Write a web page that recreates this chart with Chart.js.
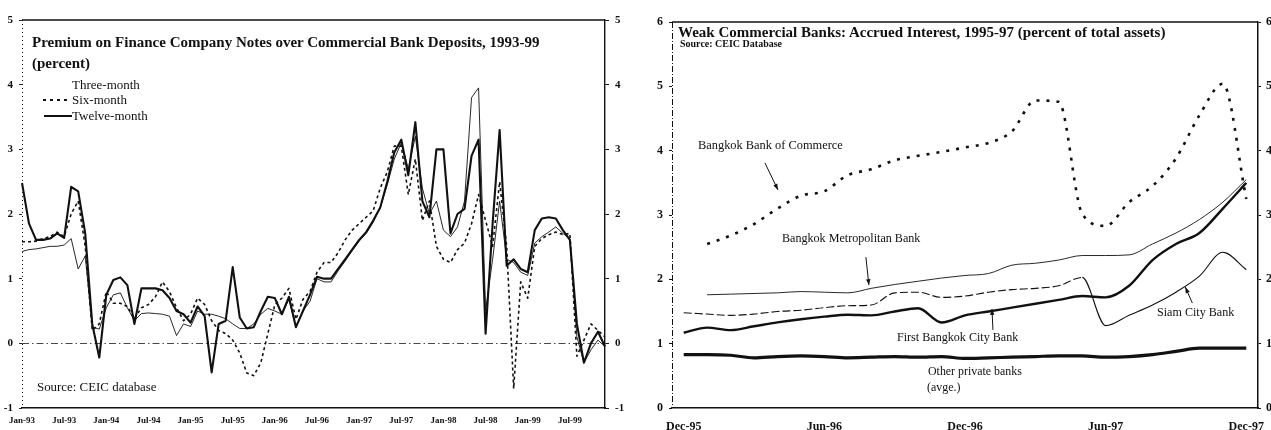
<!DOCTYPE html>
<html>
<head>
<meta charset="utf-8">
<script src="https://cdn.jsdelivr.net/npm/chart.js@4.4.1/dist/chart.umd.min.js"></script>
<style>
  html, body { margin: 0; padding: 0; background: #fff; }
  body { width: 1271px; height: 430px; position: relative; overflow: hidden;
         font-family: "Liberation Serif", "Times New Roman", serif; color: #111; }
  .painel { position: absolute; top: 0; }
  #painelPremio { left: 0; }
  #painelBancos { left: 635px; }
  canvas { display: block; }
  .txt { position: absolute; white-space: nowrap; line-height: 1; }
  .titulo { font-weight: bold; }
  .amostra-seis { position: absolute; height: 2px;
    background: repeating-linear-gradient(90deg, #111 0 3px, transparent 3px 7px); }
  .amostra-doze { position: absolute; height: 2px; background: #111; }
</style>
</head>
<body>
<div class="painel" id="painelPremio"><canvas id="chartPremio" width="640" height="430"></canvas></div>
<div class="painel" id="painelBancos"><canvas id="chartBancos" width="636" height="430"></canvas></div>

<!-- textos do grafico da esquerda -->
<div class="txt titulo" style="left:32px; top:35px; font-size:15px;">Premium on Finance Company Notes over Commercial Bank Deposits, 1993-99</div>
<div class="txt titulo" style="left:32px; top:56px; font-size:15px;">(percent)</div>
<div class="txt" style="left:72px; top:78px; font-size:13px;">Three-month</div>
<div class="amostra-seis" style="left:43px; top:99px; width:28px;"></div>
<div class="txt" style="left:72px; top:93px; font-size:13px;">Six-month</div>
<div class="amostra-doze" style="left:44px; top:115px; width:28px;"></div>
<div class="txt" style="left:72px; top:109px; font-size:13px;">Twelve-month</div>
<div class="txt" style="left:37px; top:381px; font-size:12.9px;">Source: CEIC database</div>

<!-- textos do grafico da direita -->
<div class="txt titulo" style="left:678px; top:25px; font-size:15px;">Weak Commercial Banks: Accrued Interest, 1995-97 (percent of total assets)</div>
<div class="txt titulo" style="left:680px; top:39px; font-size:10px;">Source: CEIC Database</div>
<div class="txt" style="left:698px; top:139px; font-size:12.4px;">Bangkok Bank of Commerce</div>
<div class="txt" style="left:782px; top:232px; font-size:12.1px;">Bangkok Metropolitan Bank</div>
<div class="txt" style="left:897px; top:331px; font-size:12.1px;">First Bangkok City Bank</div>
<div class="txt" style="left:1157px; top:306px; font-size:12.1px;">Siam City Bank</div>
<div class="txt" style="left:928px; top:366px; font-size:11.9px;">Other private banks</div>
<div class="txt" style="left:927px; top:382px; font-size:11.9px;">(avge.)</div>

<script>
// Grafico 1: premio das notas das financeiras sobre depositos bancarios (mensal, Jan-93 a Dez-99)
const MESES = ['Jan','Feb','Mar','Apr','May','Jun','Jul','Aug','Sep','Oct','Nov','Dec'];
const anosPremio = ['93','94','95','96','97','98','99'];
const mesesPremio = [];
anosPremio.forEach(a => MESES.forEach(m => mesesPremio.push(m + '-' + a)));

const premioTres = [
  1.42, 1.45, 1.46, 1.48, 1.5, 1.5, 1.52, 1.62, 1.15, 1.35, 0.25, 0.22,
  0.55, 0.75, 0.78, 0.55, 0.35, 0.46, 0.47, 0.46, 0.45, 0.42, 0.12, 0.3,
  0.26, 0.5, 0.45, 0.45, 0.42, 0.38, 0.3, 0.23, 0.23, 0.3, 0.45, 0.54,
  0.5, 0.45, 0.68, 0.25, 0.5, 0.65, 1.0, 0.95, 0.95, 1.12, 1.27, 1.43,
  1.58, 1.7, 1.87, 2.1, 2.45, 2.85, 3.1, 2.7, 3.2, 2.4, 2.0, 2.2,
  1.75, 1.65, 1.8, 2.2, 3.8, 3.95, 0.5, 1.3, 2.2, 1.3, 1.25, 1.1,
  1.05, 1.55, 1.65, 1.72, 1.8, 1.7, 1.62, 0.1, -0.3, -0.1, 0.05, -0.05
];
const premioSeis = [
  1.57, 1.57, 1.58, 1.62, 1.65, 1.72, 1.65, 2.0, 2.2, 1.5, 0.2, 0.3,
  0.8, 0.62, 0.62, 0.57, 0.38, 0.55, 0.6, 0.72, 0.95, 0.8, 0.55, 0.35,
  0.45, 0.7, 0.6, 0.35, 0.2, 0.15, 0.05, -0.15, -0.46, -0.5, -0.3, 0.15,
  0.6, 0.7, 0.85, 0.37, 0.68, 0.8, 1.1, 1.25, 1.25, 1.4, 1.6, 1.75,
  1.85, 1.95, 2.05, 2.4, 2.65, 3.05, 3.05, 2.3, 2.85, 1.9, 2.2, 1.5,
  1.3, 1.25, 1.45, 1.55, 1.85, 2.3, 1.9, 1.5, 2.5, 1.5, -0.7, 0.95,
  0.7, 1.5, 1.62, 1.68, 1.72, 1.68, 1.7, -0.2, 0.05, 0.3, 0.2, 0.1
];
const premioDoze = [
  2.48, 1.85, 1.6, 1.6, 1.62, 1.7, 1.63, 2.42, 2.35, 1.7, 0.3, -0.22,
  0.75, 0.98, 1.02, 0.9, 0.3, 0.85, 0.85, 0.85, 0.82, 0.7, 0.5, 0.45,
  0.32, 0.57, 0.42, -0.45, 0.3, 0.35, 1.18, 0.4, 0.23, 0.25, 0.5, 0.72,
  0.7, 0.45, 0.72, 0.25, 0.5, 0.75, 1.03, 1.0, 1.0, 1.15, 1.3, 1.45,
  1.6, 1.72, 1.9, 2.1, 2.5, 2.95, 3.15, 2.6, 3.42, 2.2, 1.95, 3.0,
  3.0, 1.7, 2.0, 2.08, 2.9, 3.15, 0.15, 1.85, 3.3, 1.2, 1.3, 1.15,
  1.1, 1.75, 1.93, 1.95, 1.93, 1.75, 1.6, 0.3, -0.3, 0.0, 0.18, -0.05
];

// Grafico 2: juros vencidos dos bancos fracos (% do ativo), Dez-95 a Dez-97
const mesesBancos = ['Dec-95'];
['96', '97'].forEach(a => MESES.forEach(m => mesesBancos.push(m + '-' + a)));

const bancoComercio = [null, 2.55, 2.68, 2.86, 3.1, 3.3, 3.37, 3.62, 3.71, 3.85, 3.92, 3.98, 4.05,
  4.12, 4.3, 4.78, 4.76, 3.02, 2.83, 3.2, 3.45, 3.88, 4.55, 5.04, 3.25];
const bancoMetropolitano = [null, 1.76, 1.77, 1.78, 1.79, 1.81, 1.8, 1.79, 1.86, 1.92, 1.97, 2.02, 2.06,
  2.09, 2.22, 2.25, 2.3, 2.37, 2.37, 2.38, 2.55, 2.72, 2.93, 3.2, 3.55];
const bancoFirstCity = [1.17, 1.25, 1.21, 1.27, 1.33, 1.38, 1.42, 1.45, 1.44, 1.5, 1.55, 1.33, 1.44,
  1.5, 1.56, 1.62, 1.68, 1.74, 1.72, 1.9, 2.3, 2.55, 2.72, 3.1, 3.5];
const bancoSiam = [1.48, 1.46, 1.44, 1.46, 1.5, 1.52, 1.56, 1.59, 1.6, 1.79, 1.8, 1.72, 1.74,
  1.8, 1.84, 1.86, 1.9, 2.03, 1.28, 1.44, 1.6, 1.8, 2.05, 2.42, 2.15];
const bancosOutros = [0.83, 0.83, 0.82, 0.78, 0.8, 0.81, 0.8, 0.78, 0.79, 0.8, 0.79, 0.8, 0.77,
  0.78, 0.79, 0.8, 0.81, 0.81, 0.79, 0.8, 0.83, 0.88, 0.93, 0.93, 0.93];

// Setas das etiquetas: ponta em coordenadas dos dados, cauda em pixels relativos
const setasBancos = [
  { mes: 4.02, valor: 3.39, dx: -13, dy: -27 },
  { mes: 7.9,  valor: 1.91, dx: -3,  dy: -28 },
  { mes: 13.15, valor: 1.54, dx: 1,  dy: 21 },
  { mes: 21.4, valor: 1.88, dx: 7,   dy: 16 }
];

const SERIF = '"Liberation Serif", "Times New Roman", serif';
const PRETO = '#111';

// moldura: linha de cima continua, eixo da esquerda tracejado
const moldura = {
  id: 'moldura',
  beforeDatasetsDraw(chart, args, opts) {
    const { ctx, chartArea: a } = chart;
    ctx.save();
    ctx.strokeStyle = PRETO;
    ctx.lineWidth = opts.larguraTopo;
    ctx.beginPath(); ctx.moveTo(a.left, a.top); ctx.lineTo(a.right, a.top); ctx.stroke();
    ctx.lineWidth = 1;
    ctx.setLineDash(opts.tracoEsquerda);
    ctx.beginPath(); ctx.moveTo(a.left + 0.5, a.top); ctx.lineTo(a.left + 0.5, a.bottom); ctx.stroke();
    ctx.restore();
  }
};

const setas = {
  id: 'setas',
  afterDatasetsDraw(chart, args, opts) {
    if (!opts.itens) return;
    const { ctx, scales: { x, y } } = chart;
    ctx.save();
    ctx.strokeStyle = PRETO; ctx.fillStyle = PRETO; ctx.lineWidth = 1;
    opts.itens.forEach(s => {
      const tx = x.getPixelForValue(s.mes), ty = y.getPixelForValue(s.valor);
      const fx = tx + s.dx, fy = ty + s.dy;
      ctx.beginPath(); ctx.moveTo(fx, fy); ctx.lineTo(tx, ty); ctx.stroke();
      const ang = Math.atan2(ty - fy, tx - fx);
      ctx.beginPath();
      ctx.moveTo(tx, ty);
      ctx.lineTo(tx - 6 * Math.cos(ang) + 2.2 * Math.sin(ang), ty - 6 * Math.sin(ang) - 2.2 * Math.cos(ang));
      ctx.lineTo(tx - 6 * Math.cos(ang) - 2.2 * Math.sin(ang), ty - 6 * Math.sin(ang) + 2.2 * Math.cos(ang));
      ctx.closePath(); ctx.fill();
    });
    ctx.restore();
  }
};

Chart.defaults.font.family = SERIF;
Chart.defaults.color = PRETO;

const fonteEixo = (tam) => ({ family: SERIF, size: tam, weight: 'bold' });

// ---- grafico da esquerda
new Chart(document.getElementById('chartPremio'), {
  type: 'line',
  data: {
    labels: mesesPremio,
    datasets: [
      { label: 'Three-month', data: premioTres, borderColor: PRETO, borderWidth: 0.9 },
      { label: 'Six-month', data: premioSeis, borderColor: PRETO, borderWidth: 1.6, borderDash: [3, 3] },
      { label: 'Twelve-month', data: premioDoze, borderColor: PRETO, borderWidth: 2.1 }
    ]
  },
  options: {
    responsive: false,
    animation: false,
    layout: { padding: { top: 20 } },
    elements: { point: { radius: 0 }, line: { tension: 0, borderJoinStyle: 'round' } },
    plugins: {
      legend: { display: false }, tooltip: { enabled: false },
      moldura: { larguraTopo: 1.3, tracoEsquerda: [1, 3] }
    },
    scales: {
      x: {
        offset: false,
        grid: { display: false },
        border: { color: PRETO, width: 1.5 },
        ticks: {
          autoSkip: false, maxRotation: 0, padding: -1, font: fonteEixo(9), color: PRETO,
          callback: (v, i) => (i % 6 === 0 ? mesesPremio[i] : '')
        },
        afterFit: s => { s.height = 22; }
      },
      y: {
        min: -1, max: 5,
        ticks: { stepSize: 1, padding: 6, font: fonteEixo(11), color: PRETO },
        border: { display: false, dash: [7, 3, 1.5, 3] },
        grid: {
          color: c => (c.tick && c.tick.value === 0 ? '#333' : 'rgba(0,0,0,0)'),
          lineWidth: 0.9, tickColor: PRETO, tickLength: 3
        },
        afterFit: s => { s.width = 22; }
      },
      y2: {
        position: 'right', min: -1, max: 5,
        ticks: { stepSize: 1, padding: 6, font: fonteEixo(11), color: PRETO },
        grid: { drawOnChartArea: false, tickColor: PRETO, tickLength: 4 },
        border: { color: PRETO, width: 1.4 },
        afterFit: s => { s.width = 35; }
      }
    }
  },
  plugins: [moldura]
});

// ---- grafico da direita
new Chart(document.getElementById('chartBancos'), {
  type: 'line',
  data: {
    labels: mesesBancos,
    datasets: [
      { label: 'Bangkok Bank of Commerce', data: bancoComercio, borderColor: PRETO, borderWidth: 2.6,
        borderDash: [3, 7], borderCapStyle: 'butt' },
      { label: 'Bangkok Metropolitan Bank', data: bancoMetropolitano, borderColor: PRETO, borderWidth: 0.9 },
      { label: 'First Bangkok City Bank', data: bancoFirstCity, borderColor: PRETO, borderWidth: 2.4 },
      { label: 'Siam City Bank', data: bancoSiam, borderColor: PRETO, borderWidth: 1.1,
        segment: { borderDash: c => (c.p0DataIndex < 17 ? [8, 3] : []) } },
      { label: 'Other private banks (avge.)', data: bancosOutros, borderColor: PRETO, borderWidth: 3.2 }
    ]
  },
  options: {
    responsive: false,
    animation: false,
    layout: { padding: { top: 22 } },
    elements: { point: { radius: 0 }, line: { cubicInterpolationMode: 'monotone' } },
    plugins: {
      legend: { display: false }, tooltip: { enabled: false },
      moldura: { larguraTopo: 1.6, tracoEsquerda: [6, 2, 1, 2] },
      setas: { itens: setasBancos }
    },
    scales: {
      x: {
        offset: true,
        grid: { display: false },
        border: { color: PRETO, width: 1.5 },
        ticks: {
          autoSkip: false, maxRotation: 0, padding: 4, font: fonteEixo(12), color: PRETO,
          callback: (v, i) => (i % 6 === 0 ? mesesBancos[i] : '')
        },
        afterFit: s => { s.height = 22; }
      },
      y: {
        min: 0, max: 6,
        ticks: { stepSize: 1, padding: 6, font: fonteEixo(12), color: PRETO },
        border: { display: false },
        grid: { drawOnChartArea: false, tickColor: PRETO, tickLength: 3 },
        afterFit: s => { s.width = 37; }
      },
      y2: {
        position: 'right', min: 0, max: 6,
        ticks: { stepSize: 1, padding: 5, font: fonteEixo(12), color: PRETO },
        grid: { drawOnChartArea: false, tickColor: PRETO, tickLength: 3 },
        border: { color: PRETO, width: 1.5 },
        afterFit: s => { s.width = 13; }
      }
    }
  },
  plugins: [moldura, setas]
});
</script>
</body>
</html>
